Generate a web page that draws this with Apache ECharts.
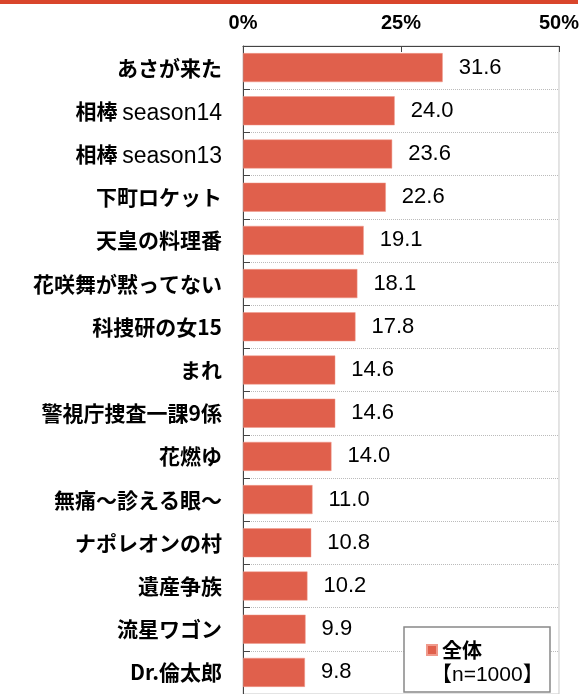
<!DOCTYPE html>
<html>
<head>
<meta charset="utf-8">
<script src="https://cdn.jsdelivr.net/npm/echarts@6/dist/echarts.min.js"></script>
<style>
  html, body { margin: 0; padding: 0; background: #fff; }
  #chart { width: 582px; height: 694px; }
</style>
</head>
<body>
<div id="chart"></div>
<script>
// 番組名（上から順）
var categories = [
    'あさが来た', '相棒 season14', '相棒 season13', '下町ロケット', '天皇の料理番',
    '花咲舞が黙ってない', '科捜研の女15', 'まれ', '警視庁捜査一課9係', '花燃ゆ',
    '無痛～診える眼～', 'ナポレオンの村', '遺産争族', '流星ワゴン', 'Dr.倫太郎'
];
// 全体 (%)
var values = [31.6, 24.0, 23.6, 22.6, 19.1, 18.1, 17.8, 14.6, 14.6, 14.0, 11.0, 10.8, 10.2, 9.9, 9.8];
var seriesName = '全体';
var sampleNote = '【n=1000】';
var xTicks = [0, 25, 50];

var jpFont = '"Noto Sans CJK JP", "Noto Sans", sans-serif';

var option = {
    animation: false,
    backgroundColor: '#fff',
    grid: {
        left: 243, right: 21, top: 46, bottom: -2,
        show: true, borderColor: '#c8c8c8', borderWidth: 1
    },
    legend: {
        data: [seriesName],
        left: 404, top: 627,
        orient: 'vertical',
        padding: [13, 68, 32, 22],
        itemWidth: 10, itemHeight: 10, itemGap: 0,
        icon: 'rect',
        backgroundColor: '#fff',
        borderColor: '#888', borderWidth: 1.5,
        textStyle: { fontFamily: jpFont, fontWeight: 'bold', fontSize: 20, color: '#000', lineHeight: 20 }
    },
    graphic: [
        { type: 'rect', left: 0, top: 0, shape: { width: 578, height: 4 }, style: { fill: '#d9452b' }, z: 10 },
        { type: 'text', left: 431, top: 665, z: 100,
          style: { text: sampleNote, font: '21px "Liberation Sans", "Noto Sans CJK JP", sans-serif', fill: '#000' } }
    ],
    xAxis: {
        type: 'value',
        position: 'top',
        min: xTicks[0], max: xTicks[xTicks.length - 1], interval: 25,
        axisLine: { show: true, lineStyle: { color: '#444', width: 1 } },
        axisTick: { show: true, inside: true, length: 6, lineStyle: { color: '#444' } },
        splitLine: { show: false },
        axisLabel: {
            formatter: '{value}%', margin: 13,
            fontFamily: '"Liberation Sans", sans-serif', fontSize: 20, fontWeight: 'bold', color: '#000'
        }
    },
    yAxis: {
        type: 'category',
        inverse: true,
        data: categories,
        axisLine: { show: true, lineStyle: { color: '#444', width: 1 } },
        axisTick: { show: true, inside: true, length: 7, lineStyle: { color: '#444' } },
        splitLine: { show: true, lineStyle: { color: '#bbb', type: 'dotted' } },
        axisLabel: {
            margin: 21,
            fontFamily: jpFont, fontSize: 21, fontWeight: 'bold', color: '#000',
            formatter: function (v) {
                return v.replace(/(season\d+)/, '{r|$1}');
            },
            rich: {
                r: { fontFamily: '"Liberation Sans", sans-serif', fontSize: 23, fontWeight: 'normal',
                     color: '#000', padding: [5, 0, 0, 0] }
            }
        }
    },
    series: [{
        name: seriesName,
        type: 'bar',
        data: values,
        barWidth: 29,
        itemStyle: { color: '#e0604c', borderColor: '#f09a8c', borderWidth: 0.5 },
        label: {
            show: true, position: 'right', distance: 16,
            formatter: function (p) { return p.value.toFixed(1); },
            fontFamily: '"Liberation Sans", sans-serif', fontSize: 22, color: '#000'
        }
    }]
};

var myChart = echarts.init(document.getElementById('chart'));
myChart.setOption(option);
</script>
</body>
</html>
